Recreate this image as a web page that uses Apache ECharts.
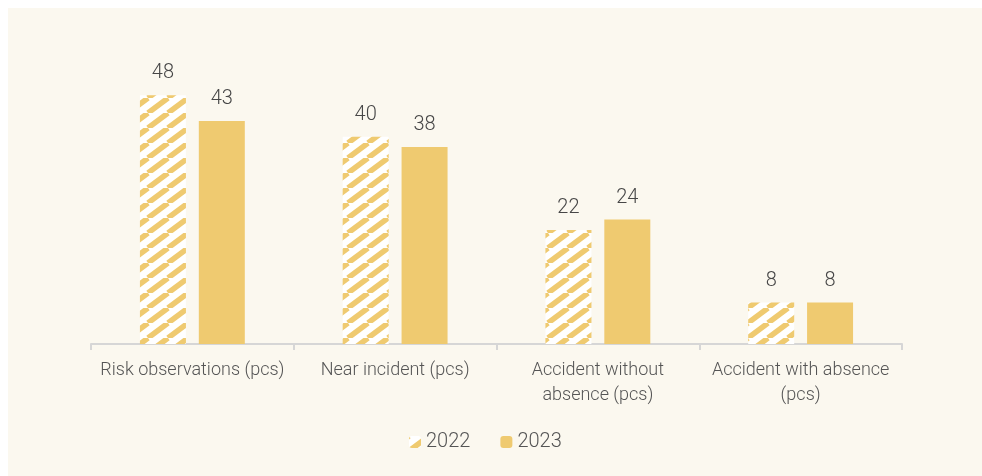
<!DOCTYPE html>
<html>
<head>
<meta charset="utf-8">
<script src="https://cdn.jsdelivr.net/npm/echarts@6/dist/echarts.min.js"></script>
<style>
  html, body { margin: 0; padding: 0; background: #ffffff; }
  #chart { position: absolute; left: 8px; top: 8px; width: 974px; height: 468px; }
</style>
</head>
<body>
<div id="chart"></div>
<script>
// Safety reporting figures per category
const categories = [
  'Risk observations (pcs)',
  'Near incident (pcs)',
  'Accident without\nabsence (pcs)',
  'Accident with absence\n(pcs)'
];
const seriesNames = ['2022', '2023'];
const values2022 = [48, 40, 22, 8];
const values2023 = [43, 38, 24, 8];

const YELLOW = '#EFCA70';
const TEXT = '#555555';
const FONT = 'Roboto, sans-serif';

// Diagonal hatch tile for the 2022 bars (stripes rising to the right)
function makeHatch() {
  const w = 20, h = 15;
  const c = document.createElement('canvas');
  c.width = w; c.height = h;
  const ctx = c.getContext('2d');
  ctx.fillStyle = '#ffffff';
  ctx.fillRect(0, 0, w, h);
  ctx.strokeStyle = YELLOW;
  ctx.lineWidth = 5.5;
  for (const x0 of [-w, 0, w]) {
    ctx.beginPath();
    ctx.moveTo(x0, h);
    ctx.lineTo(x0 + w, 0);
    ctx.stroke();
  }
  return c;
}

const chart = echarts.init(document.getElementById('chart'));
const labelStyle = {
  show: true,
  position: 'top',
  distance: 12,
  color: '#474747',
  fontSize: 20,
  fontWeight: 300,
  fontFamily: FONT
};

chart.setOption({
  backgroundColor: '#FBF8EF',
  animation: false,
  grid: { left: 83, right: 80, top: 25, bottom: 132 },
  legend: {
    bottom: 19,
    left: 396,
    itemWidth: 12,
    itemHeight: 12,
    itemGap: 30,
    textStyle: { color: TEXT, fontSize: 20, fontWeight: 300, fontFamily: FONT },
    data: seriesNames
  },
  xAxis: {
    type: 'category',
    data: categories,
    axisLine: { lineStyle: { color: '#D6D6D6', width: 2 } },
    axisTick: { show: true, length: 6, lineStyle: { color: '#D6D6D6', width: 2 } },
    axisLabel: {
      color: TEXT,
      fontSize: 18,
      fontWeight: 300,
      lineHeight: 25,
      margin: 14,
      fontFamily: FONT,
      interval: 0
    }
  },
  yAxis: {
    type: 'value',
    min: 0,
    max: 60,
    show: false,
    splitLine: { show: false }
  },
  series: [
    {
      name: seriesNames[0],
      type: 'bar',
      data: values2022,
      barWidth: 46,
      barGap: '28%',
      itemStyle: { color: { image: makeHatch(), repeat: 'repeat' } },
      label: labelStyle
    },
    {
      name: seriesNames[1],
      type: 'bar',
      data: values2023,
      barWidth: 46,
      itemStyle: { color: YELLOW },
      label: labelStyle
    }
  ]
});
</script>
</body>
</html>
